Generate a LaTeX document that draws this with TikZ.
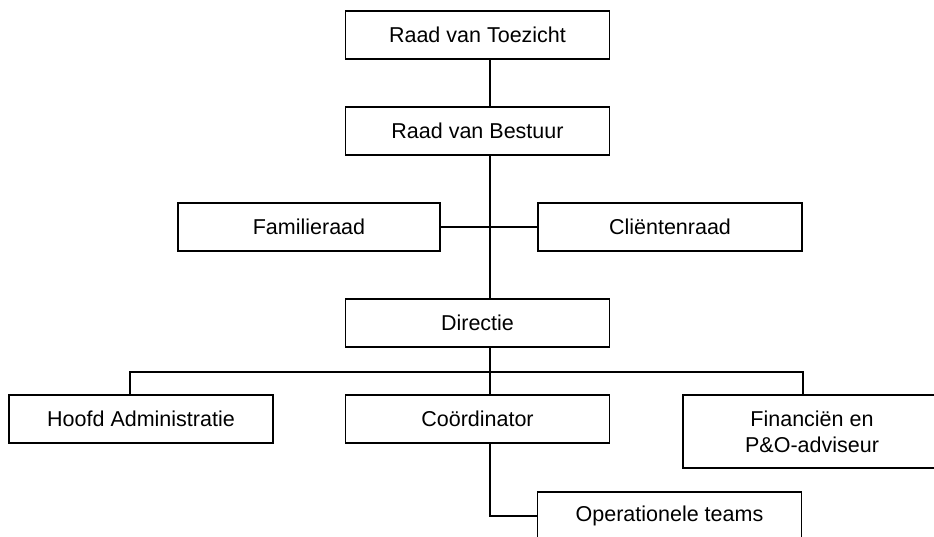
\documentclass[tikz,border=0pt]{standalone}
\usepackage{fontspec}
\setmainfont{Liberation Sans}
\begin{document}
\begin{tikzpicture}[x=1pt,y=-1pt,
  orgbox/.style={draw=black,line width=1.8pt,fill=white,rectangle,inner sep=0pt,
    minimum width=264pt,minimum height=48pt,font=\fontsize{21.5pt}{26pt}\selectfont,align=center},
  link/.style={draw=black,line width=1.8pt}]
\useasboundingbox[fill=white] (0,0) rectangle (934,537);
\node[orgbox] (rvt) at (477.5,35) {Raad van Toezicht};
\node[orgbox] (rvb) at (477.5,131) {Raad van Bestuur};
\node[orgbox,minimum width=262pt] (fam) at (309,227) {Familieraad};
\node[orgbox,minimum width=264pt] (cli) at (670,227) {Cliëntenraad};
\node[orgbox] (dir) at (477.5,323) {Directie};
\node[orgbox] (ha) at (141,419) {Hoofd Administratie};
\node[orgbox] (coo) at (477.5,419) {Coördinator};
\node[orgbox,minimum width=254pt,minimum height=73pt] (fin) at (810,431.5) {\hspace*{4pt}Financiën en\\\hspace*{4pt}P\&O-adviseur};
\node[orgbox,minimum height=48pt] (ot) at (669.5,516) {Operationele teams};
\coordinate (v) at (490,0);
\coordinate (hx) at (130,0);
\coordinate (fx) at (803,0);
\coordinate (bus) at (0,372);
\draw[link] (rvt.south -| v) -- (rvb.north -| v);
\draw[link] (rvb.south -| v) -- (dir.north -| v);
\draw[link] (fam.east) -- (cli.west);
\draw[link] (dir.south -| v) -- (coo.north -| v);
\draw[link] (ha.north -| hx) -- (hx |- bus) -- (fx |- bus) -- (fin.north -| fx);
\draw[link] (coo.south -| v) |- (ot.west);
\end{tikzpicture}
\end{document}
